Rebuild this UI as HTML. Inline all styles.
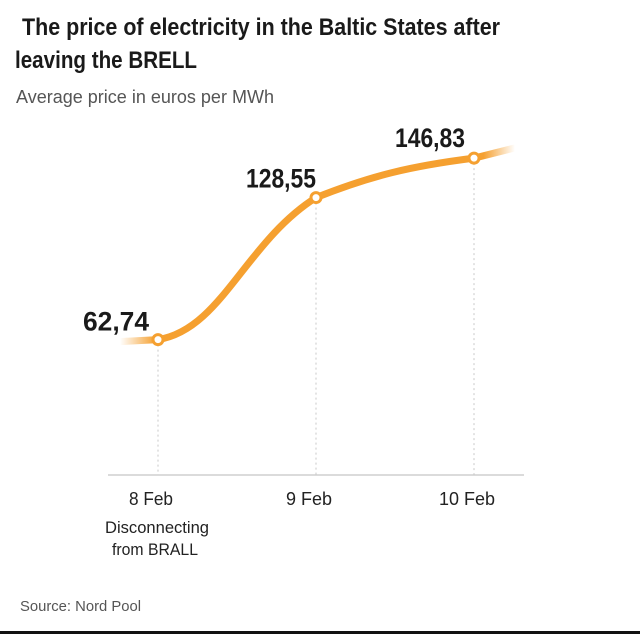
<!DOCTYPE html>
<html><head><meta charset="utf-8"><style>
html,body{margin:0;padding:0;background:#fff;}
svg{display:block;font-family:"Liberation Sans",sans-serif;}
</style></head><body>
<svg width="640" height="634" viewBox="0 0 640 634">
<defs>
<linearGradient id="lg" gradientUnits="userSpaceOnUse" x1="120" y1="0" x2="515" y2="0">
<stop offset="0" stop-color="#f5a030" stop-opacity="0"/>
<stop offset="0.09" stop-color="#f5a030" stop-opacity="1"/>
<stop offset="0.92" stop-color="#f5a030" stop-opacity="1"/>
<stop offset="1" stop-color="#f5a030" stop-opacity="0"/>
</linearGradient>
</defs>
<text x="22" y="35" font-size="24" font-weight="bold" fill="#1a1a1a" textLength="478" lengthAdjust="spacingAndGlyphs">The price of electricity in the Baltic States after</text>
<text x="15" y="68" font-size="24" font-weight="bold" fill="#1a1a1a" textLength="182" lengthAdjust="spacingAndGlyphs">leaving the BRELL</text>
<text x="16" y="103" font-size="18" fill="#555" textLength="258" lengthAdjust="spacingAndGlyphs">Average price in euros per MWh</text>
<g id="plot"></g>
<text x="20" y="611" font-size="15" fill="#555" textLength="121" lengthAdjust="spacingAndGlyphs">Source: Nord Pool</text>
<rect x="0" y="631" width="640" height="3" fill="#111"/>
</svg>
<script>
const categories = ["8 Feb", "9 Feb", "10 Feb"];
const values = [62.74, 128.55, 146.83];
const valueLabels = ["62,74", "128,55", "146,83"];
const ns = "http://www.w3.org/2000/svg";
const g = document.getElementById("plot");
const xPos = i => 158 + i * 158;
const yPos = v => 475 - v * 2.158;
function mk(tag, attrs){const e=document.createElementNS(ns,tag);for(const k in attrs)e.setAttribute(k,attrs[k]);g.appendChild(e);return e;}
const axis = mk("line",{x1:108,x2:524,y1:475,y2:475,stroke:"#cfcfcf","stroke-width":1.5});


const tickW = [44, 46, 56];
categories.forEach((c,i)=>{
  const gl = mk("line",{x1:xPos(i),x2:xPos(i),y1:yPos(values[i]),y2:475,stroke:"#c8c8c8","stroke-width":1,"stroke-dasharray":"2,3"});
  
  
  const t = mk("text",{x:xPos(i)-7,y:505,"font-size":18,fill:"#222","text-anchor":"middle",textLength:tickW[i],lengthAdjust:"spacingAndGlyphs"});
  t.textContent = c;
  
  
});
const n1 = mk("text",{x:157,y:533,"font-size":17,fill:"#222","text-anchor":"middle",textLength:104,lengthAdjust:"spacingAndGlyphs"});
n1.textContent="Disconnecting";


const n2 = mk("text",{x:155,y:555,"font-size":17,fill:"#222","text-anchor":"middle",textLength:86,lengthAdjust:"spacingAndGlyphs"});
n2.textContent="from BRALL";


const pts = values.map((v,i)=>[xPos(i),yPos(v)]);
const dx = 158;
let d = `M ${pts[0][0]-38} ${pts[0][1]+2} L ${pts[0][0]} ${pts[0][1]}`;
d += ` C ${pts[0][0]+dx*0.4} ${pts[0][1]-10}, ${pts[1][0]-dx*0.45} ${pts[1][1]+45}, ${pts[1][0]} ${pts[1][1]}`;
d += ` C ${pts[1][0]+dx*0.35} ${pts[1][1]-22}, ${pts[2][0]-dx*0.4} ${pts[2][1]+8}, ${pts[2][0]} ${pts[2][1]}`;
d += ` L ${pts[2][0]+40} ${pts[2][1]-10}`;
const line = mk("path",{d:d,fill:"none",stroke:"url(#lg)","stroke-width":7,"stroke-linecap":"round"});


const lblOff = [[-42,-9],[-35,-10],[-44,-11]];
pts.forEach((p,i)=>{
  const c = mk("circle",{cx:p[0],cy:p[1],r:5,fill:"#fff",stroke:"#f5a030","stroke-width":3});
  
  
  const t = mk("text",{x:p[0]+lblOff[i][0],y:p[1]+lblOff[i][1],"font-size":27,"font-weight":"bold",fill:"#1a1a1a","text-anchor":"middle",textLength:i==0?66:70,lengthAdjust:"spacingAndGlyphs"});
  t.textContent = valueLabels[i];
  
  
});
</script>
</body></html>
